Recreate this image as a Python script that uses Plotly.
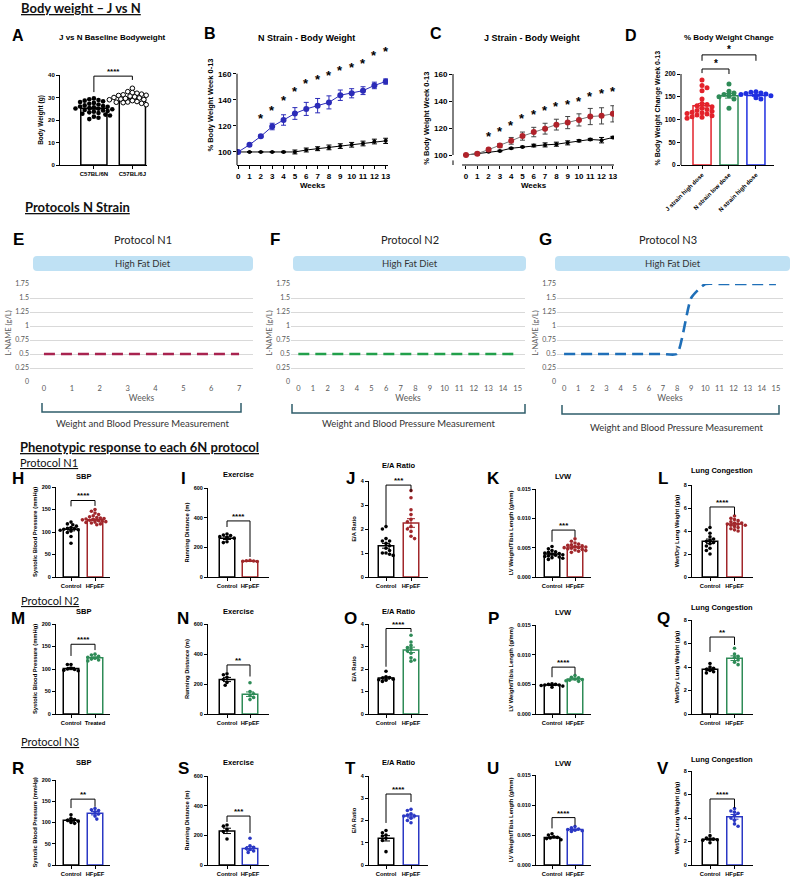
import plotly.graph_objects as go

W, H = 792, 878
ARIAL = "Liberation Sans, Arial, sans-serif"
OFF = "Lato, Open Sans, sans-serif"

def fx(x): return x / W
def fy(y): return 1 - y / H

# ======================= DATA =======================
# A - baseline body weight
A_groups = ["C57BL/6N", "C57BL/6J"]
A_mean = [25.2, 29.6]
A_sem = [0.45, 0.35]
A_6N = [29.6, 29.2, 28.9, 28.6, 28.3, 28.0, 27.6, 27.2, 26.9, 26.5, 26.2, 25.9, 25.6, 25.3, 25.0,
        24.8, 24.5, 24.2, 24.0, 23.7, 23.4, 23.1, 22.8, 22.4, 22.0, 21.5, 21.0, 20.4, 25.1, 26.0]
A_6J = [34.1, 32.6, 32.2, 31.9, 31.5, 31.2, 30.9, 30.6, 30.3, 30.0, 29.8, 29.5, 29.3, 29.0,
        28.8, 28.5, 28.2, 28.0, 27.7, 27.4, 27.1, 26.8, 29.1, 30.2, 31.0, 28.6, 29.6, 27.9]
A_bracket = [39.5, 32.4, 37.8]

# B - N strain body weight
weeks = [0, 1, 2, 3, 4, 5, 6, 7, 8, 9, 10, 11, 12, 13]
B_hfd = [100, 105.5, 112, 119.5, 124.5, 129.5, 133, 135.5, 138, 143.5, 145, 147, 151, 154]
B_hfd_sem = [0.5, 1, 1, 2.5, 4, 4.5, 5, 5.5, 5, 4, 3.5, 3, 2.5, 2]
B_ctrl = [100, 100, 100, 100, 100, 100, 101.5, 102.5, 103.5, 104.5, 105.5, 106.5, 108, 108.5]
B_ctrl_sem = [0.3, 0.3, 0.3, 0.3, 0.5, 1.5, 1.5, 1.5, 1.8, 1.8, 1.8, 1.8, 1.8, 2]
star_weeks = [2, 3, 4, 5, 6, 7, 8, 9, 10, 11, 12, 13]
B_star = [127.7, 133.8, 141.8, 149, 154.6, 158, 161, 165, 167, 170.2, 176, 179]

# C - J strain body weight
C_hfd = [100, 101, 104, 107, 110.5, 114, 117, 119.5, 122.5, 124, 126, 128.5, 129, 130.5]
C_hfd_sem = [0.5, 1, 1, 1.5, 2.5, 3, 3.5, 4, 4, 4.5, 4.5, 6, 6, 6]
C_ctrl = [100, 101, 102.5, 103, 105, 106, 107, 107.5, 108, 109, 110.5, 111.5, 111, 113]
C_ctrl_sem = [0.3, 0.5, 0.5, 0.5, 0.5, 0.5, 1, 1.5, 1.5, 1.5, 0.8, 0.8, 2, 0.8]
C_star = [116.3, 119.8, 124.2, 128.9, 132, 135.3, 137.8, 139.5, 142, 145.2, 147.6, 149.4]

# D - % body weight change
D_groups = ["J strain high dose", "N strain low dose", "N strain high dose"]
D_mean = [130, 152, 153]
D_sem = [5, 5, 2]
D_J_high = [187, 175, 170, 163, 145, 135, 133, 130, 128, 125, 122, 120, 118, 116, 115, 113, 112,
            110, 108, 106, 105, 103]
D_N_low = [178, 162, 158, 155, 152, 150, 145, 125]
D_N_high = [161, 160, 158, 157, 156, 155, 152, 148, 145]
D_bracket_inner = [211, 202, 200]
D_bracket_outer = [242, 229, 229]

# E/F/G - protocols (L-NAME g/L)
E_weeks = [0, 1, 2, 3, 4, 5, 6, 7]
E_lname = [0.5, 0.5, 0.5, 0.5, 0.5, 0.5, 0.5, 0.5]
F_weeks = [0, 1, 2, 3, 4, 5, 6, 7, 8, 9, 10, 11, 12, 13, 14, 15]
F_lname = [0.5, 0.5, 0.5, 0.5, 0.5, 0.5, 0.5, 0.5, 0.5, 0.5, 0.5, 0.5, 0.5, 0.5, 0.5, 0.5]
G_weeks = [0, 1, 2, 3, 4, 5, 6, 7, 8, 9, 10, 11, 12, 13, 14, 15]
G_lname = [0.5, 0.5, 0.5, 0.5, 0.5, 0.5, 0.5, 0.5, 0.5, 1.5, 1.75, 1.75, 1.75, 1.75, 1.75, 1.75]
L_ticks = [0, 0.25, 0.5, 0.75, 1, 1.25, 1.5, 1.75]
L_ticktext = ["0", "0.25", "0.5", "0.75", "1", "1.25", "1.5", "1.75"]

# H-V phenotypes: control dots, HFpEF dots, bar means, SEM, significance, bracket [top, left, right]
H_ctrl = [122, 118, 116, 113, 110, 108, 107, 106, 105, 104, 102, 99, 90, 75]
H_hf = [150, 146, 142, 139, 136, 134, 132, 131, 130, 129, 128, 127, 126, 125, 124, 123, 122, 121, 120, 118, 116]
H_mean, H_sem, H_sig, H_br = [106, 127], [3.5, 1.8], "****", [170, 157, 158]
I_ctrl = [290, 283, 280, 272, 268, 262, 238, 232]
I_hf = [112, 110, 108, 106, 104]
I_mean, I_sem, I_sig, I_br = [262, 106], [9, 1.5], "****", [378, 337, 135]
J_ctrl = [2.1, 2.0, 1.6, 1.5, 1.5, 1.4, 1.3, 1.2, 1.1, 1.0, 1.0, 0.95, 0.9]
J_hf = [3.6, 3.3, 2.8, 2.6, 2.4, 2.3, 2.1, 2.0, 1.9, 1.7, 1.6]
J_mean, J_sem, J_sig, J_br = [1.3, 2.25], [0.1, 0.18], "***", [3.83, 2.1, 3.55]
K_ctrl = [0.0052, 0.0048, 0.0045, 0.0043, 0.0042, 0.0041, 0.0040, 0.0039, 0.0038, 0.0037, 0.0036,
          0.0035, 0.0034, 0.0033, 0.0032, 0.0030]
K_hf = [0.0065, 0.0061, 0.0058, 0.0056, 0.0055, 0.0054, 0.0053, 0.0052, 0.0051, 0.0050, 0.0050,
        0.0049, 0.0048, 0.0047, 0.0046, 0.0045, 0.0044, 0.0042]
K_mean, K_sem, K_sig, K_br = [0.0039, 0.0051], [0.00015, 0.00013], "***", [0.0080, 0.0060, 0.0068]
L_ctrl = [4.3, 4.1, 3.8, 3.5, 3.3, 3.2, 3.1, 3.0, 2.9, 2.7, 2.5, 2.3, 2.0]
L_hf = [5.3, 5.1, 5.0, 4.9, 4.8, 4.7, 4.7, 4.6, 4.6, 4.5, 4.5, 4.4, 4.3, 4.2, 4.1, 4.0]
L_mean, L_sem, L_sig, L_br = [3.1, 4.6], [0.2, 0.08], "****", [6.09, 4.4, 5.4]
M_ctrl = [110, 110, 102, 100, 99, 97, 96]
M_hf = [133, 131, 128, 126, 124, 122, 120, 118]
M_mean, M_sem, M_sig, M_br = [101, 125], [2.5, 2], "****", [155, 129, 142]
N_ctrl = [268, 262, 245, 230, 210, 192]
N_hf = [208, 150, 135, 122, 110, 96]
N_mean, N_sem, N_sig, N_br = [230, 132], [14, 15], "**", [327, 280, 250]
O_ctrl = [1.9, 1.65, 1.62, 1.6, 1.55, 1.52, 1.5, 1.45]
O_hf = [3.5, 3.2, 3.05, 2.95, 2.9, 2.8, 2.7, 2.5, 2.4, 2.35]
O_mean, O_sem, O_sig, O_br = [1.6, 2.85], [0.05, 0.12], "****", [3.8, 2.1, 3.64]
P_ctrl = [0.0051, 0.0050, 0.0050, 0.0049, 0.0049, 0.0048, 0.0047, 0.0045]
P_hf = [0.0065, 0.0062, 0.0061, 0.0059, 0.0058, 0.0057, 0.0056, 0.0055]
P_mean, P_sem, P_sig, P_br = [0.0049, 0.0059], [0.0001, 0.00015], "****", [0.0079, 0.0062, 0.0067]
Q_ctrl = [4.3, 4.0, 3.9, 3.8, 3.7, 3.6, 3.5]
Q_hf = [5.6, 5.1, 4.9, 4.8, 4.6, 4.4, 4.2]
Q_mean, Q_sem, Q_sig, Q_br = [3.8, 4.75], [0.1, 0.2], "**", [6.55, 5.28, 5.87]
R_ctrl = [118, 110, 107, 105, 103, 100, 98]
R_hf = [133, 130, 128, 125, 120, 115, 108]
R_mean, R_sem, R_sig, R_br = [105, 122], [3, 4], "**", [155, 134, 137]
S_ctrl = [270, 262, 240, 225, 175]
S_hf = [180, 130, 120, 112, 105, 95, 85]
S_mean, S_sem, S_sig, S_br = [230, 112], [18, 12], "***", [330, 290, 216]
T_ctrl = [1.55, 1.45, 1.35, 1.3, 1.2, 1.1, 0.6]
T_hf = [2.5, 2.45, 2.3, 2.25, 2.2, 2.2, 2.1, 2.0, 1.9]
T_mean, T_sem, T_sig, T_br = [1.2, 2.2], [0.12, 0.08], "****", [3.19, 1.89, 2.83]
U_ctrl = [0.0052, 0.0050, 0.0047, 0.0046, 0.0045, 0.0044, 0.0042]
U_hf = [0.0064, 0.0062, 0.0060, 0.0059, 0.0058, 0.0057, 0.0056]
U_mean, U_sem, U_sig, U_br = [0.0046, 0.0059], [0.0001, 0.0001], "****", [0.0079, 0.0061, 0.0066]
V_ctrl = [2.5, 2.3, 2.2, 2.2, 2.15, 2.1, 1.9]
V_hf = [4.8, 4.6, 4.5, 4.4, 4.2, 4.0, 3.8, 3.5, 3.3]
V_mean, V_sem, V_sig, V_br = [2.2, 4.1], [0.08, 0.2], "****", [5.62, 2.72, 4.85]

col_titles = ["SBP", "Exercise", "E/A Ratio", "LVW", "Lung Congestion"]
col_ytitles = ["Systolic Blood Pressure (mmHg)", "Running Distance (m)", "E/A Ratio",
               "LV Weight/Tibia Length (g/mm)", "Wet/Dry Lung Weight (g/g)"]
col_ymax = [200, 600, 4, 0.015, 8]
col_dtick = [50, 200, 1, 0.005, 2]
col_fmt = ["", "", "", ".3f", ""]
row_colors = ["#A1272B", "#2E8B57", "#2B38C4"]
labels_default = ["Control", "HFpEF"]
labels_M = ["Control", "Treated"]

# ======================= LAYOUT HELPERS =======================
fig = go.Figure()
layout = dict(width=W, height=H, margin=dict(l=0, r=0, t=0, b=0, autoexpand=False), paper_bgcolor="white",
              plot_bgcolor="white", showlegend=False, barmode="overlay")
shapes, annots = [], []


def names(n):
    s = "" if n == 1 else str(n)
    return "x" + s, "y" + s, "xaxis" + s, "yaxis" + s


def setup(n, x0, x1, ytop, ybot, xr, yr, xkw, ykw):
    xid, yid, xk, yk = names(n)
    bx = dict(domain=[fx(x0), fx(x1)], range=xr, anchor=yid, fixedrange=True, showgrid=False,
              zeroline=False, automargin=False, tickangle=0)
    bx.update(xkw)
    by = dict(domain=[fy(ybot), fy(ytop)], range=yr, anchor=xid, fixedrange=True, showgrid=False,
              zeroline=False, automargin=False)
    by.update(ykw)
    layout[xk] = bx
    layout[yk] = by
    return xid, yid


def pax(size=6, line=True, **kw):
    d = dict(showline=line, linecolor="black", linewidth=1, ticks="outside", ticklen=3, tickwidth=1,
             tickcolor="black", tickfont=dict(family=ARIAL, size=size, color="black", weight="bold"))
    d.update(kw)
    return d


def ptitle(text, size=6, standoff=3):
    return dict(text=text, font=dict(family=ARIAL, size=size, color="black", weight="bold"), standoff=standoff)


def text(x, y, s, size, family=ARIAL, bold=True, color="black", xanchor="center", yanchor="middle"):
    annots.append(dict(x=fx(x), y=fy(y), xref="paper", yref="paper", text=s, showarrow=False,
                       font=dict(family=family, size=size, color=color, weight="bold" if bold else "normal"),
                       xanchor=xanchor, yanchor=yanchor))


def swarm(vals, ypu, xpu, d):
    placed = []
    res = [0.0] * len(vals)
    order = sorted(range(len(vals)), key=lambda i: -vals[i])
    for i in order:
        yv = vals[i] * ypu
        k, found = 0, None
        while found is None:
            cands = [0.0] if k == 0 else [k * d * 0.5, -k * d * 0.5]
            if len(placed) % 2:
                cands = cands[::-1]
            for c in cands:
                if all((c - a) ** 2 + (yv - b) ** 2 >= (0.9 * d) ** 2 for a, b in placed):
                    found = c
                    break
            k += 1
        placed.append((found, yv))
        res[i] = found / xpu
    return res


def bracket(xid, yid, xl, xr_, top, lb, rb, sig, size=8, color="black"):
    shapes.append(dict(type="path", xref=xid, yref=yid,
                       path=f"M {xl},{lb} L {xl},{top} L {xr_},{top} L {xr_},{rb}",
                       line=dict(color=color, width=1)))
    annots.append(dict(x=(xl + xr_) / 2, y=top, xref=xid, yref=yid, text=sig, showarrow=False,
                       font=dict(family=ARIAL, size=size, color="black", weight="bold"),
                       yanchor="bottom", yshift=-2))


def bars_and_dots(xid, yid, groups_vals, means, sems, colors, dotcolors, width, ypu, xpu, dsize,
                  open_idx=(), lw=1.5):
    for i, (vals, m, se) in enumerate(zip(groups_vals, means, sems)):
        fig.add_trace(go.Bar(x=[i], y=[m], width=width, xaxis=xid, yaxis=yid,
                             marker=dict(color="white", line=dict(color=colors[i], width=lw)),
                             error_y=dict(type="data", array=[se], color=colors[i], thickness=1, width=4)))
    for i, vals in enumerate(groups_vals):
        offs = swarm(vals, ypu, xpu, dsize)
        if i in open_idx:
            mk = dict(size=dsize, color="white", line=dict(color=dotcolors[i], width=1))
        else:
            mk = dict(size=dsize, color=dotcolors[i], line=dict(width=0))
        fig.add_trace(go.Scatter(x=[i + o for o in offs], y=vals, mode="markers", marker=mk,
                                 xaxis=xid, yaxis=yid, cliponaxis=False))


def rounded_box(x0, x1, y0, y1, r=4, color="#BFE1F4"):
    a, b, c, d = fx(x0), fx(x1), fy(y0), fy(y1)
    rx, ry = r / W, r / H
    p = (f"M {a + rx},{c} L {b - rx},{c} Q {b},{c} {b},{c - ry} L {b},{d + ry} Q {b},{d} {b - rx},{d} "
         f"L {a + rx},{d} Q {a},{d} {a},{d + ry} L {a},{c - ry} Q {a},{c} {a + rx},{c} Z")
    shapes.append(dict(type="path", xref="paper", yref="paper", path=p, fillcolor=color,
                       line=dict(width=0), layer="below"))


# ======================= SECTION HEADERS =======================
def header(x, y, s, size=13, bold=True):
    text(x, y, f"<span style='text-decoration:underline'>{s}</span>", size, family=OFF, bold=bold,
         color="#111", xanchor="left")


header(19, 8, "Body weight – J vs N")
header(23, 207, "Protocols N Strain")
header(18, 447, "Phenotypic response to each 6N protocol")
header(18, 462, "Protocol N1", size=11, bold=False)
header(19, 600, "Protocol N2", size=11, bold=False)
header(19, 741, "Protocol N3", size=11, bold=False)

# ======================= PANEL A =======================
xa, ya = setup(1, 60, 147, 75, 165, [-0.88, 1.38], [0, 40],
               pax(6, tickvals=[0, 1], ticktext=A_groups),
               pax(6, tickvals=[0, 10, 20, 30, 40], title=ptitle("Body Weight (g)", 6.5)))
bars_and_dots(xa, ya, [A_6N, A_6J], A_mean, A_sem, ["black", "black"], ["black", "black"], 0.68,
              2.25, 38.5, 4.6, open_idx=(1,))
bracket(xa, ya, 0, 1, A_bracket[0], A_bracket[1], A_bracket[2], "****", 8)
text(18, 35, "A", 16)
text(112, 38, "J vs N Baseline Bodyweight", 8)

# ======================= PANEL B =======================
xb, yb = setup(2, 237, 388, 45, 165, [-0.1, 13.2], [90, 182],
               pax(8, tickvals=weeks, title=ptitle("Weeks", 8, 2)),
               pax(8, line=False, tickvals=[100, 120, 140, 160],
                   title=ptitle("% Body Weight Week 0-13", 7.5, 3)))
shapes.append(dict(type="line", xref="x2 domain", yref=yb, x0=0, x1=0, y0=90, y1=160,
                   line=dict(color="black", width=1)))
fig.add_trace(go.Scatter(x=weeks, y=B_ctrl, mode="lines+markers", xaxis=xb, yaxis=yb,
                         line=dict(color="black", width=1), marker=dict(size=4, color="black"),
                         error_y=dict(type="data", array=B_ctrl_sem, color="black", thickness=1, width=2.5)))
fig.add_trace(go.Scatter(x=weeks, y=B_hfd, mode="lines+markers", xaxis=xb, yaxis=yb,
                         line=dict(color="#2B2BB8", width=1), marker=dict(size=6, color="#2B2BB8"),
                         error_y=dict(type="data", array=B_hfd_sem, color="#2B2BB8", thickness=1, width=2.5)))
for w, s in zip(star_weeks, B_star):
    annots.append(dict(x=w, y=s, xref=xb, yref=yb, text="*", showarrow=False, yshift=-3,
                       font=dict(family=ARIAL, size=13, color="black", weight="bold")))
text(210, 33, "B", 16)
text(306, 38, "N Strain - Body Weight", 9)

# ======================= PANEL C =======================
xc, yc = setup(3, 453, 614, 71.3, 165, [-1.15, 13.1], [92.6, 162],
               pax(8, line=False, tickvals=weeks, title=ptitle("Weeks", 8, 2)),
               pax(8, line=False, tickvals=[100, 120, 140, 160],
                   title=ptitle("% Body Weight Week 0-13", 7.5, 3)))
shapes.append(dict(type="line", xref="x3 domain", yref=yc, x0=0, x1=0, y0=100, y1=160,
                   line=dict(color="black", width=1)))
shapes.append(dict(type="line", xref="x3 domain", yref=yc, x0=0, x1=0, y0=92.6, y1=96,
                   line=dict(color="black", width=1)))
shapes.append(dict(type="line", xref=xc, yref="y3 domain", x0=-0.35, x1=13.1, y0=0, y1=0,
                   line=dict(color="black", width=1)))
fig.add_trace(go.Scatter(x=weeks, y=C_ctrl, mode="lines+markers", xaxis=xc, yaxis=yc,
                         line=dict(color="black", width=1), marker=dict(size=4, color="black"),
                         error_y=dict(type="data", array=C_ctrl_sem, color="black", thickness=1, width=2.5)))
fig.add_trace(go.Scatter(x=weeks, y=C_hfd, mode="lines+markers", xaxis=xc, yaxis=yc,
                         line=dict(color="#777777", width=1), marker=dict(size=6, color="#B0222A"),
                         error_y=dict(type="data", array=C_hfd_sem, color="#444444", thickness=1, width=2.5)))
for w, s in zip(star_weeks, C_star):
    annots.append(dict(x=w, y=s, xref=xc, yref=yc, text="*", showarrow=False, yshift=-3,
                       font=dict(family=ARIAL, size=13, color="black", weight="bold")))
text(436, 34, "C", 16)
text(532, 38, "J Strain - Body Weight", 9)

# ======================= PANEL D =======================
xd, yd = setup(4, 681, 774, 51.25, 165, [-0.78, 2.67], [0, 250],
               pax(6, tickvals=[0, 1, 2], ticktext=D_groups, tickangle=-45),
               pax(6.5, line=False, tickvals=[0, 50, 100, 150, 200],
                   title=ptitle("% Body Weight Change Week 0-13", 7, 3)))
shapes.append(dict(type="line", xref="x4 domain", yref=yd, x0=0, x1=0, y0=0, y1=200,
                   line=dict(color="black", width=1)))
Dcols = ["#E3222B", "#2E8B57", "#1F2FE0"]
bars_and_dots(xd, yd, [D_J_high, D_N_low, D_N_high], D_mean, D_sem, Dcols, Dcols, 0.67,
              0.455, 27, 5)
bracket(xd, yd, 0, 1, D_bracket_inner[0], D_bracket_inner[1], D_bracket_inner[2], "*", 10)
bracket(xd, yd, 0, 2, D_bracket_outer[0], D_bracket_outer[1], D_bracket_outer[2], "*", 10)
text(631, 35, "D", 16)
text(729, 37, "% Body Weight Change", 8)

# ======================= PANELS E/F/G =======================
prot = [
    (5, "E", "Protocol N1", E_weeks, E_lname, "#A8234F", (30, 253), [-0.5, 7.5], (33, 253), (42, 241, 403),
     18, 143, 142, 423),
    (6, "F", "Protocol N2", F_weeks, F_lname, "#22A04B", (291, 525), [-0.5, 15.5], (293, 526), (292, 525, 404),
     275, 410, 408, 424),
    (7, "G", "Protocol N3", G_weeks, G_lname, "#1F6FB8", (557, 783), [-0.5, 15.5], (555, 790), (562, 779, 405),
     545, 668, 676, 427),
]
GR = "#595959"
for n, letter, title, wk, ln, col, (x0, x1), xr, (bx0, bx1), (kx0, kx1, ky), lx, tx, mx, my in prot:
    xid, yid = setup(n, x0, x1, 284, 382, xr, [0, 1.75],
                     dict(tickvals=wk, showline=False, ticks="", tickfont=dict(family=OFF, size=7.5, color=GR),
                          title=dict(text="Weeks", font=dict(family=OFF, size=8.5, color=GR), standoff=3)),
                     dict(tickvals=L_ticks, ticktext=L_ticktext, showgrid=True, gridcolor="#D9D9D9", gridwidth=1,
                          showline=False, ticks="", tickfont=dict(family=OFF, size=7, color=GR),
                          title=dict(text="L-NAME (g/L)", font=dict(family=OFF, size=7.5, color=GR), standoff=2)))
    fig.add_trace(go.Scatter(x=wk, y=ln, mode="lines", xaxis=xid, yaxis=yid,
                             line=dict(color=col, width=2.6, dash="11px,6px",
                                       shape="spline" if n == 7 else "linear", smoothing=0.5)))
    rounded_box(bx0, bx1, 256, 271)
    text((bx0 + bx1) / 2, 263.5, "High Fat Diet", 9.5, family=OFF, bold=False, color="#333")
    text(lx, 240, letter, 17)
    text(tx, 239, title, 11, family=OFF, bold=False, color="#222")
    shapes.append(dict(type="path", xref="paper", yref="paper",
                       path=f"M {fx(kx0)},{fy(ky)} L {fx(kx0)},{fy(ky + 9)} L {fx(kx1)},{fy(ky + 9)} L {fx(kx1)},{fy(ky)}",
                       line=dict(color="#2F5D6B", width=1.5)))
    text(mx, my, "Weight and Blood Pressure Measurement", 9.5, family=OFF, bold=False, color="#333")

# ======================= PANELS H-V =======================
grid = [
    [("H", H_ctrl, H_hf, H_mean, H_sem, H_sig, H_br), ("I", I_ctrl, I_hf, I_mean, I_sem, I_sig, I_br),
     ("J", J_ctrl, J_hf, J_mean, J_sem, J_sig, J_br), ("K", K_ctrl, K_hf, K_mean, K_sem, K_sig, K_br),
     ("L", L_ctrl, L_hf, L_mean, L_sem, L_sig, L_br)],
    [("M", M_ctrl, M_hf, M_mean, M_sem, M_sig, M_br), ("N", N_ctrl, N_hf, N_mean, N_sem, N_sig, N_br),
     ("O", O_ctrl, O_hf, O_mean, O_sem, O_sig, O_br), ("P", P_ctrl, P_hf, P_mean, P_sem, P_sig, P_br),
     ("Q", Q_ctrl, Q_hf, Q_mean, Q_sem, Q_sig, Q_br)],
    [("R", R_ctrl, R_hf, R_mean, R_sem, R_sig, R_br), ("S", S_ctrl, S_hf, S_mean, S_sem, S_sig, S_br),
     ("T", T_ctrl, T_hf, T_mean, T_sem, T_sig, T_br), ("U", U_ctrl, U_hf, U_mean, U_sem, U_sig, U_br),
     ("V", V_ctrl, V_hf, V_mean, V_sem, V_sig, V_br)],
]
cols_px = [(56, 71, 24), (208, 227, 23), (369, 386, 25), (536, 552, 23), (692, 710, 24.5)]
row_y0 = [577, 714, 865]
row_ytop = [[487, 488, 481, 489, 485], [624, 624, 624, 625, 620], [780, 776, 776, 775, 771]]
row_title_y = [[476, 475, 465, 477, 470], [611, 611, 611, 612, 607], [762, 762, 762, 763, 759]]
row_letter_y = [479, 618, 768]
col_letter_x = [18, 183, 350, 493, 663]

n = 8
for r, row in enumerate(grid):
    for c, (letter, ctrl, hf, mean, sem, sig, br) in enumerate(row):
        axx, cx, s = cols_px[c]
        off = (cx - axx) / s
        xr = [-off, 1 + off]
        x1 = axx + (xr[1] - xr[0]) * s
        y0, yt = row_y0[r], row_ytop[r][c]
        ymax = col_ymax[c]
        tv = [round(k * col_dtick[c], 4) for k in range(int(round(ymax / col_dtick[c])) + 1)]
        ykw = pax(5.5, tickvals=tv, title=ptitle(col_ytitles[c], 5.8, 3))
        if col_fmt[c]:
            ykw["tickformat"] = col_fmt[c]
        xlab = labels_M if letter == "M" else labels_default
        xid, yid = setup(n, axx, x1, yt, y0, xr, [0, ymax],
                         pax(5.8, tickvals=[0, 1], ticktext=xlab), ykw)
        colr = row_colors[r]
        bars_and_dots(xid, yid, [ctrl, hf], mean, sem, ["black", colr], ["black", colr], 15.5 / s,
                      (y0 - yt) / ymax, s, 3.6)
        bracket(xid, yid, 0, 1, br[0], br[1], br[2], sig, 8)
        text(col_letter_x[c], row_letter_y[r], letter, 17)
        text(cx + s / 2, row_title_y[r][c], col_titles[c], 7.5)
        n += 1

layout["shapes"] = shapes
layout["annotations"] = annots
fig.update_layout(**layout)
fig.write_html("out.html")
